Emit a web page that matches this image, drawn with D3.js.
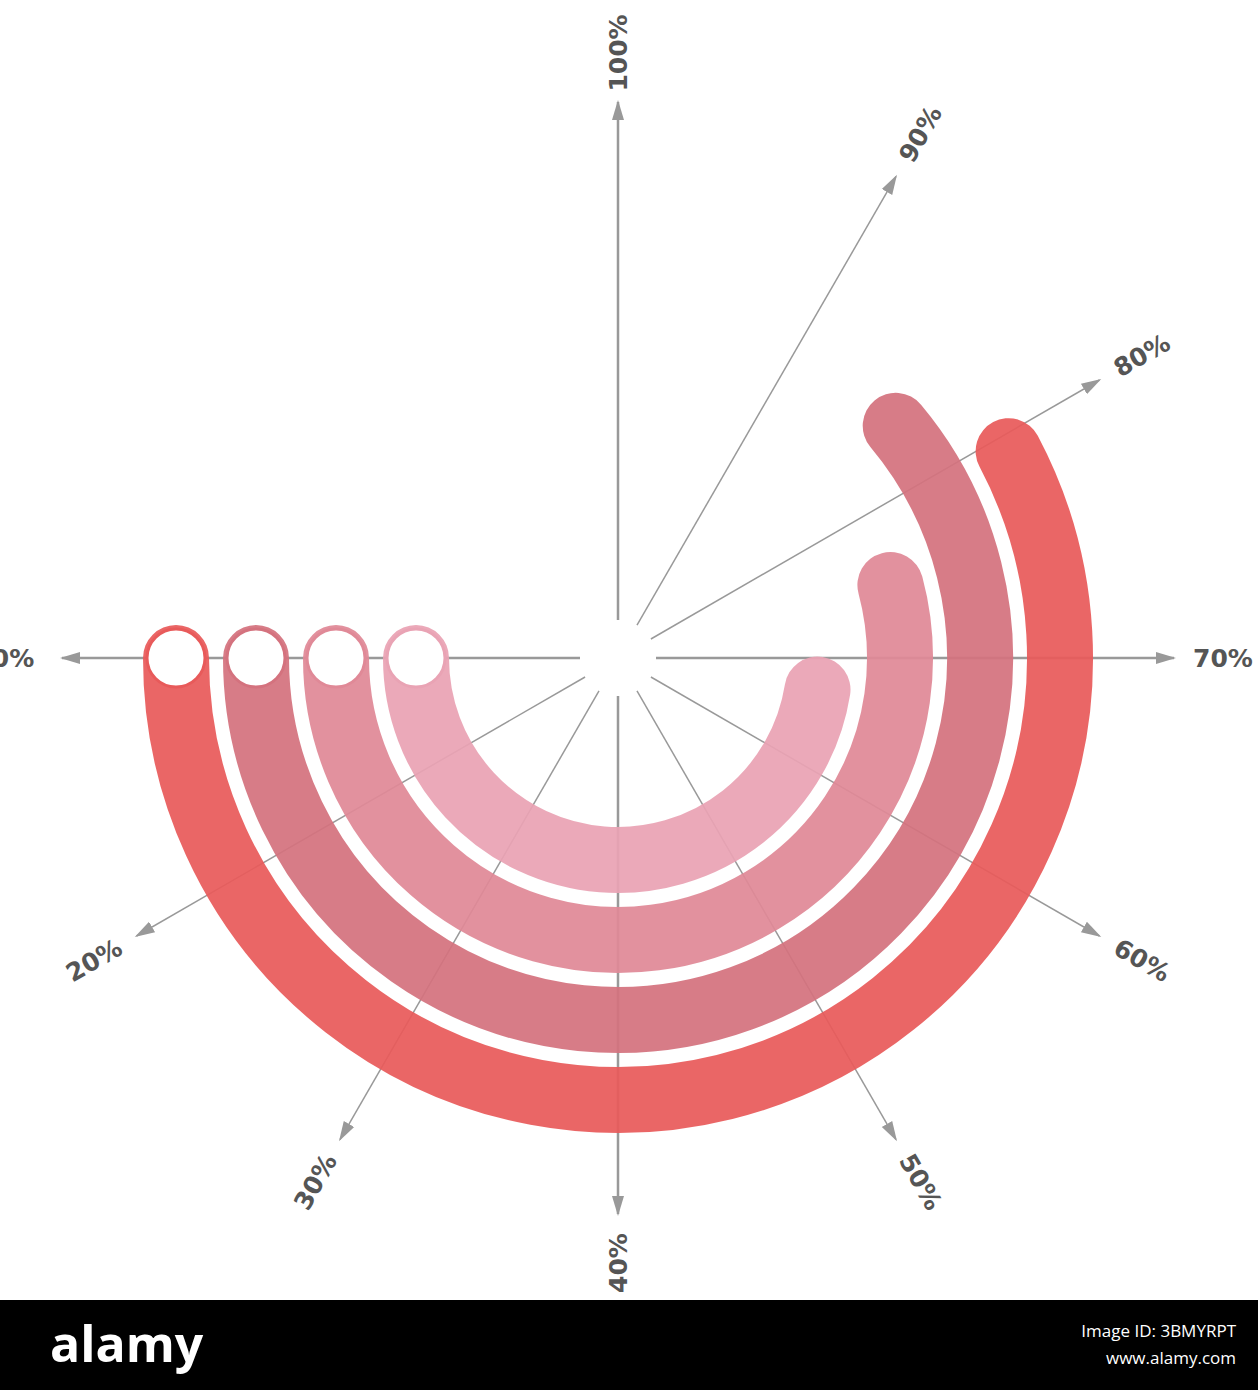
<!DOCTYPE html>
<html><head><meta charset="utf-8">
<script src="https://cdn.jsdelivr.net/npm/d3@7"></script>
<style>body{margin:0;background:#fff}svg{display:block}</style>
</head><body>
<svg id="c" width="1258" height="1390"></svg>
<script>
const tickLabels=["0%","20%","30%","40%","50%","60%","70%","80%","90%","100%"];
const tickValues=[0,20,30,40,50,60,70,80,90,100];
const series=["A","B","C","D"];
const values=[79.3,83.3,75,67];
const colors=["#e85a5a","#d4727e","#e08997","#e9a3b4"];

const svg=d3.select("#c");
const cx=618, cy=658;
const ang=d3.scaleLinear().domain(tickValues).range(tickValues.map((d,i)=>i*30));
const rad=d3.scalePoint().domain(series).range([442,202]);
const pt=(r,deg)=>{const t=deg*Math.PI/180;return [cx-r*Math.cos(t), cy+r*Math.sin(t)];};

const defs=svg.append("defs");
defs.append("marker").attr("id","ar").attr("viewBox","0 0 10 10").attr("refX",9).attr("refY",5)
 .attr("markerWidth",20).attr("markerHeight",20).attr("markerUnits","userSpaceOnUse").attr("orient","auto")
 .append("path").attr("d","M0,2L10,5L0,8Z").attr("fill","#999");

const g=svg.append("g");
tickValues.forEach((v,i)=>{
  const a=ang(v);
  const [x1,y1]=pt(38,a),[x2,y2]=pt(556,a);
  g.append("line").attr("x1",x1).attr("y1",y1).attr("x2",x2).attr("y2",y2)
   .attr("stroke","#999").attr("stroke-width",(i%3==0)?2.5:1.5).attr("marker-end","url(#ar)");
  const [lx,ly]=pt(605,a);
  let sa=Math.atan2(ly-cy,lx-cx)*180/Math.PI;
  if(sa>=90)sa-=180; if(sa<=-90)sa+=180;
  if(Math.abs(sa-90)<0.5)sa=-90;
  g.append("text").attr("transform",`translate(${lx},${ly}) rotate(${sa})`)
   .attr("text-anchor","middle").attr("dominant-baseline","central")
   .attr("font-family","DejaVu Sans, sans-serif").attr("font-weight","bold").attr("font-size",25)
   .attr("fill","#555").text(tickLabels[i]);
});

series.forEach((s,i)=>{
  const r=rad(s), a1=ang(values[i]);
  const p=d3.path();
  const [sx,sy]=pt(r,0);
  p.moveTo(sx,sy);
  p.arc(cx,cy,r,Math.PI,Math.PI-a1*Math.PI/180,true);
  svg.append("path").attr("d",p.toString()).attr("fill","none").attr("stroke",colors[i])
   .attr("stroke-width",66).attr("stroke-linecap","round").attr("opacity",0.93);
  svg.append("circle").attr("cx",sx).attr("cy",sy).attr("r",29).attr("fill","#fff")
   .attr("stroke",colors[i]).attr("stroke-width",3);
});

const f=svg.append("g");
f.append("rect").attr("x",0).attr("y",1300).attr("width",1258).attr("height",90).attr("fill","#000");
f.append("text").attr("x",50).attr("y",1362).attr("fill","#fff").attr("font-family","Open Sans, sans-serif")
 .attr("font-weight","bold").attr("font-size",50).text("alamy");
f.append("text").attr("x",1236).attr("y",1337).attr("fill","#fff").attr("text-anchor","end")
 .attr("font-family","Open Sans, sans-serif").attr("font-size",17).text("Image ID: 3BMYRPT");
f.append("text").attr("x",1236).attr("y",1364).attr("fill","#fff").attr("text-anchor","end")
 .attr("font-family","Open Sans, sans-serif").attr("font-size",17).text("www.alamy.com");
</script>
</body></html>
